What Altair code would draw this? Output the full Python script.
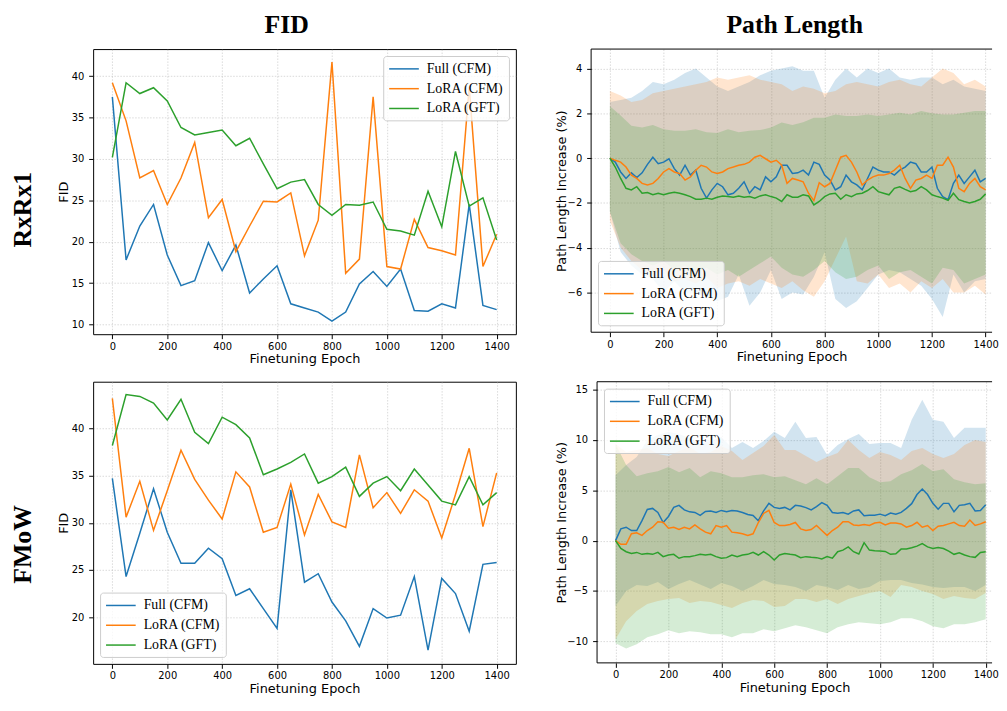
import altair as alt
import pandas as pd

SERIES = ["Full (CFM)", "LoRA (CFM)", "LoRA (GFT)"]
COLORS = ["#1f77b4", "#ff7f0e", "#2ca02c"]

FID_EPOCHS = list(range(0, 1401, 50))
PL_EPOCHS = list(range(0, 1401, 20))
BAND_EPOCHS = list(range(0, 1401, 40))
X_TICKS = list(range(0, 1401, 200))

# ---------------- RxRx1 : FID ----------------
RX_FID_FULL = [37.5, 17.8, 21.9, 24.5, 18.4, 14.7, 15.3, 19.9, 16.5, 19.6, 13.8, 15.5, 17.1, 12.5, 12.0,
               11.5, 10.4, 11.5, 14.9, 16.4, 14.6, 16.7, 11.7, 11.6, 12.5, 12.0, 24.5, 12.3, 11.8]
RX_FID_LCFM = [39.2, 34.6, 27.7, 28.6, 24.5, 27.7, 32.0, 22.9, 25.1, 18.8, 21.9, 24.9, 24.8, 25.9, 18.3,
               22.6, 41.7, 16.2, 17.9, 37.5, 17.0, 16.7, 22.7, 19.3, 18.9, 18.4, 38.7, 17.0, 20.9]
RX_FID_LGFT = [30.2, 39.2, 37.9, 38.6, 37.0, 33.8, 32.9, 33.2, 33.5, 31.6, 32.5, 29.4, 26.4, 27.2, 27.5,
               24.5, 23.2, 24.5, 24.4, 24.8, 21.5, 21.3, 20.8, 26.1, 21.8, 30.9, 24.3, 25.3, 20.2]

# ---------------- FMoW : FID ----------------
FM_FID_FULL = [34.7, 24.3, 28.9, 33.6, 29.0, 25.7, 25.7, 27.3, 26.2, 22.3, 23.0, 20.9, 18.8, 33.5, 23.7,
               24.6, 21.6, 19.6, 16.9, 20.9, 19.9, 20.2, 24.3, 16.5, 24.1, 22.5, 18.5, 25.6, 25.8]
FM_FID_LCFM = [43.2, 30.6, 34.4, 29.2, 33.4, 37.7, 34.6, 32.4, 30.4, 35.4, 33.8, 29.0, 29.5, 34.1, 28.7,
               33.0, 30.1, 29.5, 37.2, 31.6, 33.2, 31.0, 33.5, 32.3, 28.4, 33.0, 37.9, 29.6, 35.3]
FM_FID_LGFT = [38.2, 43.6, 43.4, 42.7, 40.9, 43.1, 39.6, 38.4, 41.2, 40.4, 39.0, 35.1, 35.7, 36.4, 37.3,
               34.2, 34.9, 35.9, 32.8, 34.2, 34.9, 33.4, 35.7, 34.0, 32.3, 31.9, 34.9, 31.9, 33.2]

# ---------------- RxRx1 : path length (mean, every 20 epochs) ----------------
RX_PL_FULL = [0.0, -0.18, -0.62, -0.91, -0.66, -0.87, -0.66, -0.28, 0.04, -0.25,
              -0.18, -0.03, -0.47, -0.76, -0.32, -0.76, -0.54, -1.35, -1.79, -1.42,
              -1.13, -1.28, -1.64, -1.57, -1.35, -1.06, -1.57, -1.28, -1.42, -0.84,
              -1.06, -0.84, -0.32, -0.32, -0.69, -0.66, -0.54, -0.76, -0.18, -0.28,
              -0.76, -0.98, -1.42, -1.28, -0.76, -1.06, -1.20, -1.42, -0.91, -0.40,
              -0.54, -0.62, -0.62, -0.76, -0.54, -0.40, -0.18, -0.25, -0.62, -0.62,
              -0.40, -1.35, -1.72, -1.86, -1.13, -0.76, -1.13, -0.84, -0.54, -1.06,
              -0.91]
RX_PL_LCFM = [0.0, -0.10, -0.18, -0.40, -0.76, -0.91, -1.13, -1.20, -1.13, -0.91,
              -0.62, -0.47, -0.62, -0.69, -0.98, -0.84, -0.54, -0.32, -0.40, -0.62,
              -0.69, -0.62, -0.47, -0.40, -0.32, -0.28, -0.18, 0.04, 0.12, -0.03,
              -0.18, -0.10, -0.32, -1.13, -0.91, -0.98, -1.06, -1.57, -1.90, -1.10,
              -1.28, -1.13, -0.54, 0.04, 0.12, -0.18, -0.62, -1.20, -0.98, -0.84,
              -0.76, -0.76, -0.69, -0.54, -0.32, -0.91, -1.35, -0.98, -0.91, -0.76,
              -0.91, -0.32, -0.32, 0.04, -0.40, -1.35, -1.50, -1.13, -0.91, -1.28,
              -1.42]
RX_PL_LGFT = [0.0, -0.40, -0.91, -1.35, -1.42, -1.28, -1.57, -1.54, -1.64, -1.57,
              -1.64, -1.57, -1.53, -1.57, -1.64, -1.72, -1.84, -1.84, -1.79, -1.84,
              -1.75, -1.69, -1.72, -1.75, -1.69, -1.75, -1.72, -1.79, -1.69, -1.64,
              -1.72, -1.79, -1.94, -1.64, -1.75, -1.75, -1.64, -1.69, -2.09, -1.94,
              -1.72, -1.60, -1.57, -1.84, -1.64, -1.72, -1.60, -1.57, -1.45, -1.28,
              -1.50, -1.57, -1.64, -1.35, -1.28, -1.40, -1.50, -1.45, -1.28, -1.42,
              -1.64, -1.72, -1.79, -1.89, -1.57, -1.86, -1.94, -2.01, -1.94, -1.84,
              -1.60]
# band edges (every 40 epochs)
RX_UP_FULL = [2.5, 2.6, 2.7, 3.0, 3.4, 3.3, 3.5, 3.8, 4.0, 3.6, 3.2, 3.0, 3.2, 3.4, 3.7, 3.9, 4.0, 4.1,
              3.9, 3.9, 2.7, 3.5, 4.0, 3.6, 4.0, 3.8, 4.0, 3.6, 3.5, 3.6, 3.6, 3.3, 3.5, 3.2, 3.1, 3.0]
RX_LO_FULL = [-2.4, -4.2, -4.8, -5.2, -5.4, -6.0, -5.5, -6.0, -6.0, -6.2, -6.4, -6.2, -5.2, -6.6, -6.0,
              -5.0, -6.3, -6.0, -6.1, -5.3, -4.2, -6.3, -6.7, -6.4, -5.8, -5.2, -5.0, -5.1, -5.4, -5.7,
              -6.3, -7.1, -5.2, -6.0, -5.5, -5.4]
RX_UP_LCFM = [3.0, 2.8, 2.5, 2.6, 2.9, 3.0, 3.1, 3.2, 3.3, 3.4, 3.6, 3.5, 3.6, 3.7, 3.5, 3.4, 3.3, 3.0,
              3.2, 3.1, 2.9, 3.0, 3.3, 3.4, 3.3, 3.2, 3.4, 3.5, 3.3, 3.2, 3.6, 4.0, 3.8, 3.3, 3.5, 3.2]
RX_LO_LCFM = [-2.8, -4.0, -4.6, -5.0, -5.2, -5.0, -5.5, -5.4, -5.6, -5.3, -5.8, -5.6, -5.5, -5.7, -5.4,
              -5.6, -5.8, -5.5, -5.9, -6.2, -5.5, -4.5, -3.5, -5.5, -5.6, -5.2, -5.8, -5.6, -6.0, -5.5,
              -5.8, -5.4, -6.0, -6.0, -5.7, -6.1]
RX_UP_LGFT = [2.32, 1.9, 1.44, 1.37, 1.48, 1.29, 1.22, 1.22, 1.29, 1.15, 1.12, 1.29, 1.15, 1.22, 1.25,
              1.37, 1.59, 1.48, 1.6, 1.8, 1.8, 1.95, 1.88, 1.88, 1.95, 1.88, 1.95, 2.03, 1.95, 2.1,
              2.0, 1.95, 1.95, 2.03, 2.1, 2.1]
RX_LO_LGFT = [-2.4, -3.8, -4.3, -4.6, -4.8, -4.6, -5.0, -4.8, -5.1, -4.9, -5.2, -5.0, -5.3, -5.0, -4.7,
              -4.4, -4.9, -5.2, -5.3, -5.0, -4.6, -5.1, -5.4, -5.3, -5.0, -4.8, -5.4, -5.1, -5.0, -5.3,
              -5.6, -4.9, -5.0, -5.6, -5.4, -5.2]

# ---------------- FMoW : path length (mean, every 20 epochs) ----------------
FM_PL_FULL = [0.0, 1.17, 1.33, 1.0, 1.0, 1.98, 3.1, 3.2, 2.8, 1.8,
              2.4, 3.3, 3.5, 3.05, 2.86, 2.8, 2.5, 2.9, 2.95, 2.8,
              3.0, 2.86, 3.0, 2.95, 2.8, 2.6, 2.5, 1.98, 2.95, 3.7,
              3.3, 3.2, 3.3, 3.05, 3.5, 3.44, 3.28, 3.05, 3.38, 3.77,
              3.5, 2.8, 2.73, 2.8, 2.63, 2.95, 3.05, 2.47, 2.53, 2.53,
              2.63, 2.47, 2.73, 2.63, 2.8, 3.2, 3.67, 4.58, 5.13, 4.58,
              3.7, 3.12, 3.7, 3.7, 2.86, 3.5, 3.57, 3.7, 2.95, 3.0,
              3.57]
FM_PL_LCFM = [0.0, -0.36, -0.36, 0.68, 0.78, 0.52, 1.0, 1.33, 1.88, 1.82,
              1.23, 1.33, 1.1, 1.33, 1.17, 1.56, 1.17, 0.84, 0.68, 1.5,
              1.33, 1.5, 0.84, 0.78, 0.68, 0.52, 0.68, 1.8, 2.7, 3.0,
              1.8, 1.5, 1.5, 1.6, 1.8, 1.17, 1.0, 1.1, 1.5, 1.0,
              0.52, 1.0, 1.33, 1.88, 1.88, 1.56, 1.5, 1.6, 1.5, 1.75,
              1.82, 1.56, 1.75, 1.75, 1.66, 1.33, 1.5, 1.82, 1.33, 1.5,
              1.0, 1.43, 1.5, 1.66, 1.82, 1.5, 1.43, 2.05, 1.5, 1.66,
              1.88]
FM_PL_LGFT = [0.0, -0.78, -1.1, -1.27, -1.17, -1.36, -1.27, -1.36, -1.17, -1.59,
              -1.43, -1.36, -1.75, -1.59, -1.59, -1.49, -1.36, -1.43, -1.36, -1.59,
              -1.75, -1.69, -1.43, -1.59, -1.43, -1.36, -1.17, -1.43, -1.1, -1.43,
              -1.92, -1.43, -1.27, -1.36, -1.43, -1.69, -1.59, -1.66, -1.69, -1.82,
              -1.59, -1.75, -1.1, -0.94, -0.62, -1.1, -1.33, -0.2, -0.94, -1.0,
              -1.04, -1.07, -1.36, -1.3, -0.84, -0.84, -0.71, -0.55, -0.29, -0.62,
              -0.78, -0.68, -0.78, -1.04, -1.36, -1.2, -1.43, -1.59, -1.66, -1.17,
              -1.1]
FM_UP_FULL = [6.5, 7.5, 8.3, 10.0, 10.5, 10.8, 10.6, 10.2, 9.6, 9.9, 10.3, 9.2, 9.8, 9.2, 9.9, 10.8,
              10.2, 11.8, 10.2, 10.3, 8.5, 9.5, 10.1, 10.6, 9.6, 9.7, 9.7, 9.2, 12.0, 14.0, 12.0, 11.8,
              10.2, 11.2, 11.2, 11.2]
FM_LO_FULL = [-6.5, -5.0, -4.4, -4.5, -4.1, -4.8, -4.3, -3.9, -4.35, -4.8, -4.2, -4.5, -5.0, -4.5, -3.9,
              -4.3, -4.4, -4.6, -5.0, -4.4, -4.6, -4.9, -4.4, -4.8, -4.6, -4.0, -3.9, -3.9, -4.2, -4.35,
              -4.6, -4.7, -4.6, -4.6, -5.0, -4.4]
FM_UP_LCFM = [9.6, 8.8, 9.0, 9.2, 8.6, 8.4, 8.9, 9.3, 8.6, 8.8, 9.4, 8.9, 8.0, 8.7, 9.4, 10.5, 9.0, 9.0,
              8.4, 7.8, 8.3, 8.7, 10.0, 9.0, 8.2, 8.8, 8.5, 8.0, 8.9, 9.2, 8.6, 8.2, 8.6, 9.5, 10.0, 9.8]
FM_LO_LCFM = [-9.8, -8.0, -7.0, -6.3, -6.0, -5.8, -5.7, -6.2, -6.0, -6.1, -6.4, -6.7, -6.2, -5.9, -6.0,
              -6.6, -6.5, -5.8, -5.8, -6.1, -5.8, -6.3, -5.8, -5.5, -5.2, -5.0, -5.6, -4.4, -4.6, -5.0,
              -5.3, -5.8, -5.5, -5.7, -5.8, -5.2]
FM_UP_LGFT = [9.6, 7.5, 6.4, 6.7, 6.9, 7.3, 6.8, 7.2, 6.3, 6.9, 6.7, 6.3, 6.3, 6.5, 6.6, 6.3, 6.4, 6.0,
              5.6, 6.2, 5.6, 6.4, 7.2, 7.2, 6.3, 5.8, 5.9, 6.6, 7.0, 7.6, 6.9, 7.1, 6.1, 5.8, 5.6, 5.7]
FM_LO_LGFT = [-10.2, -10.7, -10.3, -9.6, -9.3, -8.9, -9.2, -9.0, -9.1, -9.3, -9.3, -9.6, -9.2, -9.2, -8.8,
              -9.0, -8.7, -8.4, -8.6, -8.9, -9.2, -8.6, -8.3, -8.1, -8.2, -8.3, -8.1, -7.7, -7.7, -8.0,
              -8.5, -8.7, -8.3, -8.3, -8.1, -7.8]

SERIF = "Liberation Serif"
SANS = "DejaVu Sans"


def long_df(epochs, arrays, name):
    rows = []
    for s, arr in zip(SERIES, arrays):
        for e, v in zip(epochs, arr):
            rows.append({"epoch": e, name: v, "method": s})
    return pd.DataFrame(rows)


def band_df(lows, highs):
    rows = []
    for s, lo, hi in zip(SERIES, lows, highs):
        for e, a, b in zip(BAND_EPOCHS, lo, hi):
            rows.append({"epoch": e, "lo": a, "hi": b, "band": s})
    return pd.DataFrame(rows)


def color_scale():
    return alt.Scale(domain=SERIES, range=COLORS)


def make_legend(orient):
    return alt.Legend(title=None, orient=orient, offset=7, symbolType="M-2.14,0H2.14",
                      symbolSize=196, symbolOffset=8, symbolStrokeWidth=1.5,
                      labelFont=SERIF, labelFontSize=14, labelColor="black", labelOffset=15,
                      fillColor="rgba(255,255,255,0.8)", strokeColor="#cccccc", cornerRadius=3,
                      padding=5, rowPadding=5, labelLimit=0)


def x_enc(dom_max):
    return alt.X("epoch:Q", scale=alt.Scale(domain=[-70, dom_max], nice=False, zero=False),
                 axis=alt.Axis(values=X_TICKS, format="d", title="Finetuning Epoch"))


def col_title(text, dx=0):
    return alt.TitleParams(text, font=SERIF, fontSize=26, fontWeight="bold", color="black",
                           anchor="middle", frame="bounds", offset=11, dx=dx)


def fid_panel(arrays, ydom, yticks, legend_orient, width, height, title=None):
    df = long_df(FID_EPOCHS, arrays, "fid")
    ch = alt.Chart(df).mark_line(strokeWidth=1.5).encode(
        x=x_enc(1470),
        y=alt.Y("fid:Q", scale=alt.Scale(domain=ydom, nice=False, zero=False),
                axis=alt.Axis(values=yticks, title="FID", minExtent=22, maxExtent=22,
                              titlePadding=1)),
        color=alt.Color("method:N", scale=color_scale(), legend=make_legend(legend_orient)),
    )
    if title is not None:
        return ch.properties(width=width, height=height, title=title)
    return ch.properties(width=width, height=height)


def pl_panel(lines, lows, highs, ydom, yticks, extent, legend_orient, width, height, title=None):
    ldf = long_df(PL_EPOCHS, lines, "pl")
    bdf = band_df(lows, highs)
    ysc = alt.Scale(domain=ydom, nice=False, zero=False)
    yax = alt.Axis(values=yticks, title="Path Length Increase (%)", minExtent=extent,
                   maxExtent=extent, titlePadding=1)
    bands = alt.Chart(bdf).mark_area(opacity=0.2).encode(
        x=x_enc(1424),
        y=alt.Y("lo:Q", scale=ysc, axis=yax, stack=None),
        y2="hi:Q",
        fill=alt.Fill("band:N", scale=color_scale(), legend=None),
    )
    ln = alt.Chart(ldf).mark_line(strokeWidth=1.5).encode(
        x=x_enc(1424),
        y=alt.Y("pl:Q", scale=ysc, axis=yax),
        color=alt.Color("method:N", scale=color_scale(), legend=make_legend(legend_orient)),
    )
    # spines: left, top, bottom (the right side runs off the page in the original)
    one = pd.DataFrame({"k": [0]})
    left = alt.Chart(one).mark_rule(color="black", strokeWidth=1).encode(
        x=alt.value(0), y=alt.value(0), y2=alt.value(height))
    top = alt.Chart(one).mark_rule(color="black", strokeWidth=1).encode(
        x=alt.value(0), x2=alt.value(width), y=alt.value(0))
    bottom = alt.Chart(one).mark_rule(color="black", strokeWidth=1).encode(
        x=alt.value(0), x2=alt.value(width), y=alt.value(height))
    lay = alt.layer(bands, ln, left, top, bottom).resolve_scale(fill="independent")
    props = dict(width=width, height=height, view=alt.ViewBackground(stroke="transparent"))
    if title is not None:
        props["title"] = title
    return lay.properties(**props)


tl = fid_panel([RX_FID_FULL, RX_FID_LCFM, RX_FID_LGFT], [8.83, 43.27], list(range(10, 41, 5)),
               "top-right", 427, 288, col_title("FID"))
tr = pl_panel([RX_PL_FULL, RX_PL_LCFM, RX_PL_LGFT], [RX_LO_FULL, RX_LO_LCFM, RX_LO_LGFT],
              [RX_UP_FULL, RX_UP_LCFM, RX_UP_LGFT], [-7.78, 4.87], list(range(-6, 5, 2)), 22,
              "bottom-left", 405, 286, col_title("Path Length", dx=18))
bl = fid_panel([FM_FID_FULL, FM_FID_LCFM, FM_FID_LGFT], [15.04, 44.96], list(range(20, 41, 5)),
               "bottom-left", 427, 285)
br = pl_panel([FM_PL_FULL, FM_PL_LCFM, FM_PL_LGFT], [FM_LO_FULL, FM_LO_LCFM, FM_LO_LGFT],
              [FM_UP_FULL, FM_UP_LCFM, FM_UP_LGFT], [-12.14, 15.78], list(range(-10, 16, 5)), 28,
              "top-left", 399, 284)


def row_title(text, dx):
    return alt.TitleParams(text, orient="left", anchor="middle", font=SERIF, fontSize=26,
                           fontWeight="bold", color="black", offset=21, dx=dx)


row1 = alt.hconcat(tl, tr, spacing=38, title=row_title("RxRx1", -21)).resolve_scale(
    color="independent", fill="independent")
row2 = alt.hconcat(bl, br, spacing=38, title=row_title("FMoW", -6)).resolve_scale(
    color="independent", fill="independent")

chart = (
    alt.vconcat(row1, row2, spacing=14)
    .resolve_scale(color="independent", fill="independent")
    .configure(padding={"left": 2, "top": 0, "right": 0, "bottom": 0})
    .configure_view(stroke="black", strokeWidth=1)
    .configure_axis(labelFont=SANS, labelFontSize=10, labelColor="black", titleFont=SANS,
                    titleFontSize=13, titleFontWeight="normal", titleColor="black",
                    tickColor="black", tickSize=4.5, tickWidth=1, domain=False,
                    gridColor="#b0b0b0", gridDash=[1.5, 1.5], gridOpacity=0.6, gridWidth=0.8,
                    labelPadding=2.5, titlePadding=2)
    .configure_axisY(labelPadding=5)
)

chart.save("out.html", embed_options={"renderer": "svg", "actions": False})
